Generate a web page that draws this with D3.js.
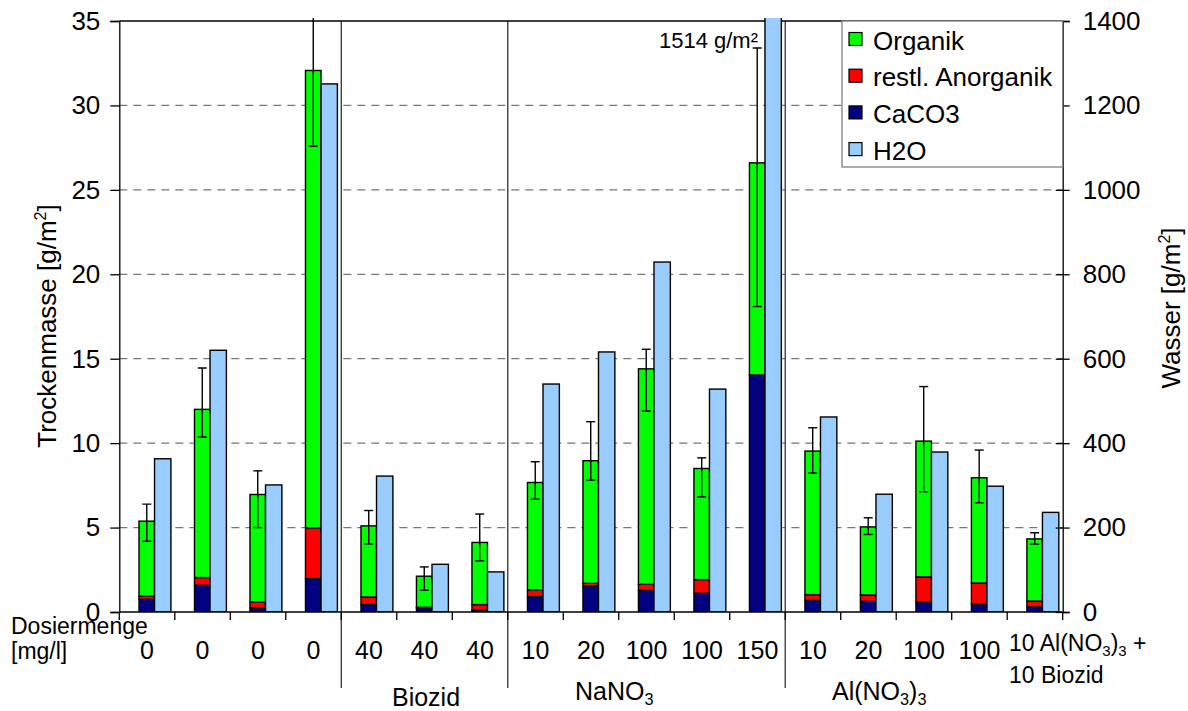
<!DOCTYPE html>
<html>
<head>
<meta charset="utf-8">
<script src="https://cdn.jsdelivr.net/npm/d3@7/dist/d3.min.js"></script>
<style>
  body { margin: 0; background: #fff; }
  svg { display: block; font-family: "Liberation Sans", Arial, sans-serif; }
</style>
</head>
<body>
<svg id="chart" width="1188" height="711"></svg>
<script>
// dosing per column, "_3" marks a subscript
var categories = ["0", "0", "0", "0", "40", "40", "40", "10", "20", "100", "100", "150",
  "10", "20", "100", "100", "10 Al(NO_3)_3 +|10 Biozid"];
var groups = [
  { label: "Biozid", x: 426, y: 706 },
  { label: "NaNO_3", x: 575, y: 700, anchor: "start" },
  { label: "Al(NO_3)_3", x: 832, y: 700, anchor: "start" }
];

// g/m² dry mass (left axis), stacked bottom -> top
var caco3    = [0.75, 1.58, 0.24, 1.98, 0.44, 0.22, 0.10, 0.91, 1.54, 1.29, 1.11, 14.04, 0.69, 0.63, 0.59, 0.46, 0.30];
var anorg    = [0.18, 0.46, 0.35, 3.00, 0.45, 0.06, 0.34, 0.40, 0.16, 0.35, 0.81, 0.00, 0.34, 0.38, 1.49, 1.26, 0.35];
var organik  = [4.45, 9.96, 6.37, 27.09, 4.21, 1.84, 3.68, 6.36, 7.26, 12.76, 6.58, 12.56, 8.50, 4.03, 8.04, 6.23, 3.68];
var errPlus  = [1.01, 2.45, 1.40, 4.50, 0.91, 0.55, 1.68, 1.23, 2.31, 1.16, 0.63, 6.80, 1.38, 0.54, 3.23, 1.64, 0.36];
var errMinus = [1.19, 1.64, 1.96, 4.49, 1.07, 0.83, 1.09, 0.99, 1.15, 2.50, 1.68, 8.51, 1.30, 0.45, 3.00, 1.48, 0.31];

// g/m² water (right axis)
var water = [363, 620, 301, 1251, 322, 113, 95, 540, 616, 829, 528, 1514, 462, 279, 379, 298, 236];

var leftTicks = [0, 5, 10, 15, 20, 25, 30, 35];
var rightTicks = [0, 200, 400, 600, 800, 1000, 1200, 1400];
var separators = [4, 7, 12];

var series = [
  { name: "Organik", color: "#00ff00" },
  { name: "restl. Anorganik", color: "#ff0000" },
  { name: "CaCO3", color: "#000080" },
  { name: "H2O", color: "#99ccff" }
];

(function () {
  var pLeft = 119.3, pRight = 1062.7, pTop = 21, pBottom = 612;
  var svg = d3.select("#chart");

  var x = d3.scaleBand().domain(d3.range(categories.length)).range([pLeft, pRight]).padding(0);
  var yL = d3.scaleLinear().domain([0, 35]).range([pBottom, pTop]);
  var yR = d3.scaleLinear().domain([0, 1400]).range([pBottom, pTop]);
  var bw = x.bandwidth();

  // writes "NaNO_3" style strings with subscripts
  function richText(sel, str, size) {
    var shift = 0;
    str.split(/(_\d)/).forEach(function (p) {
      if (!p) return;
      var sub = p.charAt(0) === "_";
      var ts = sel.append("tspan").text(sub ? p.slice(1) : p);
      if (sub) ts.attr("font-size", size * 0.65);
      var want = sub ? 5 : 0;
      if (want !== shift) ts.attr("dy", want - shift);
      shift = want;
    });
  }

  // gridlines
  svg.append("g").selectAll("line").data(leftTicks.slice(1, -1)).join("line")
    .attr("x1", pLeft).attr("x2", pRight)
    .attr("y1", function (d) { return yL(d); }).attr("y2", function (d) { return yL(d); })
    .attr("stroke", "#777").attr("stroke-width", 1.2).attr("stroke-dasharray", "8,6");

  // group separators
  svg.append("g").selectAll("line").data(separators).join("line")
    .attr("x1", function (d) { return x(d); }).attr("x2", function (d) { return x(d); })
    .attr("y1", pTop).attr("y2", 688)
    .attr("stroke", "#333").attr("stroke-width", 1.3);

  svg.append("line").attr("x1", pLeft).attr("x2", pRight).attr("y1", pTop).attr("y2", pTop)
    .attr("stroke", "#000").attr("stroke-width", 1.3);

  svg.append("clipPath").attr("id", "plotClip").append("rect")
    .attr("x", pLeft).attr("y", pTop - 3).attr("width", pRight - pLeft).attr("height", pBottom - pTop + 3);

  var plot = svg.append("g").attr("clip-path", "url(#plotClip)");

  var stackData = categories.map(function (c, i) {
    return { i: i, CaCO3: caco3[i], anorg: anorg[i], Organik: organik[i] };
  });
  var stack = d3.stack().keys(["CaCO3", "anorg", "Organik"])(stackData);
  var stackColors = { CaCO3: series[2].color, anorg: series[1].color, Organik: series[0].color };

  plot.selectAll("g.layer").data(stack).join("g").attr("class", "layer")
    .attr("fill", function (d) { return stackColors[d.key]; })
    .selectAll("rect").data(function (d) { return d.filter(function (s) { return s[1] > s[0]; }); }).join("rect")
    .attr("x", function (d) { return x(d.data.i) + bw * 0.355; })
    .attr("width", bw * 0.28)
    .attr("y", function (d) { return yL(d[1]); })
    .attr("height", function (d) { return yL(d[0]) - yL(d[1]); })
    .attr("stroke", "#000").attr("stroke-width", 1.4);

  plot.append("g").selectAll("rect").data(water).join("rect")
    .attr("x", function (d, i) { return x(i) + bw * 0.635; })
    .attr("width", bw * 0.295)
    .attr("y", function (d) { return yR(d); })
    .attr("height", function (d) { return pBottom - yR(d); })
    .attr("fill", series[3].color)
    .attr("stroke", "#000").attr("stroke-width", 1.4);

  // error bars on dry mass
  var errG = plot.append("g").attr("stroke", "#000").attr("stroke-width", 1.4);
  categories.forEach(function (c, i) {
    var total = caco3[i] + anorg[i] + organik[i];
    var cx = x(i) + bw * 0.495;
    var y1 = yL(total + errPlus[i]), y2 = yL(total - errMinus[i]);
    errG.append("line").attr("x1", cx).attr("x2", cx).attr("y1", y1).attr("y2", y2);
    errG.append("line").attr("x1", cx - 4.5).attr("x2", cx + 4.5).attr("y1", y1).attr("y2", y1);
    errG.append("line").attr("x1", cx - 4.5).attr("x2", cx + 4.5).attr("y1", y2).attr("y2", y2);
  });

  svg.append("text").attr("x", 758).attr("y", 48).attr("text-anchor", "end")
    .attr("font-size", 22).text(water[11] + " g/m²");

  // axes
  var axL = svg.append("g").attr("transform", "translate(" + pLeft + ",0)")
    .call(d3.axisLeft(yL).tickValues(leftTicks).tickSize(9).tickPadding(10));
  var axR = svg.append("g").attr("transform", "translate(" + pRight + ",0)")
    .call(d3.axisRight(yR).tickValues(rightTicks).tickFormat(d3.format("d")).tickSize(7).tickPadding(13));
  axR.selectAll(".tick line").clone().attr("x2", -7);
  [axL, axR].forEach(function (a) {
    a.attr("font-size", 26).attr("font-family", null);
    a.select(".domain").attr("stroke", "#000").attr("stroke-width", 1.3);
    a.selectAll(".tick line").attr("stroke", "#000").attr("stroke-width", 1.3);
    a.selectAll("text").attr("fill", "#000");
  });

  svg.append("line").attr("x1", pLeft).attr("x2", pRight).attr("y1", pBottom).attr("y2", pBottom)
    .attr("stroke", "#000").attr("stroke-width", 1.3);
  svg.append("g").selectAll("line").data(d3.range(categories.length + 1)).join("line")
    .attr("x1", function (d) { return pLeft + d * x.step(); })
    .attr("x2", function (d) { return pLeft + d * x.step(); })
    .attr("y1", pBottom).attr("y2", pBottom + 8)
    .attr("stroke", "#000").attr("stroke-width", 1.3);

  // category labels
  categories.forEach(function (c, i) {
    var lines = c.split("|");
    if (lines.length === 1) {
      svg.append("text").attr("x", x(i) + bw / 2).attr("y", 659).attr("text-anchor", "middle")
        .attr("font-size", 25).text(c);
    } else {
      lines.forEach(function (l, k) {
        var t = svg.append("text").attr("x", 1009).attr("y", 651 + k * 32).attr("font-size", 23);
        richText(t, l, 23);
      });
    }
  });

  groups.forEach(function (g) {
    var t = svg.append("text").attr("x", g.x).attr("y", g.y)
      .attr("text-anchor", g.anchor || "middle").attr("font-size", 25);
    richText(t, g.label, 25);
  });

  svg.append("text").attr("x", 11).attr("y", 634).attr("font-size", 23).text("Dosiermenge");
  svg.append("text").attr("x", 11).attr("y", 659).attr("font-size", 23).text("[mg/l]");

  // axis titles
  function axisTitle(txt, tx, ty) {
    var t = svg.append("text").attr("transform", "translate(" + tx + "," + ty + ") rotate(-90)")
      .attr("text-anchor", "middle").attr("font-size", 26);
    t.append("tspan").text(txt + " [g/m");
    t.append("tspan").attr("font-size", 16).attr("dy", -10).text("2");
    t.append("tspan").attr("dy", 10).text("]");
  }
  axisTitle("Trockenmasse", 56, 326);
  axisTitle("Wasser", 1180, 308);

  // legend
  var lg = svg.append("g").attr("transform", "translate(842," + pTop + ")");
  lg.append("rect").attr("width", pRight - 842).attr("height", 146)
    .attr("fill", "#fff").attr("stroke", "#808080").attr("stroke-width", 1.3);
  series.forEach(function (s, k) {
    var by = 28.5 + k * 36.7;
    lg.append("rect").attr("x", 7).attr("y", by - 17).attr("width", 13).attr("height", 13)
      .attr("fill", s.color).attr("stroke", "#000").attr("stroke-width", 1.2);
    lg.append("text").attr("x", 31).attr("y", by).attr("font-size", 26).text(s.name);
  });
})();
</script>
</body>
</html>
